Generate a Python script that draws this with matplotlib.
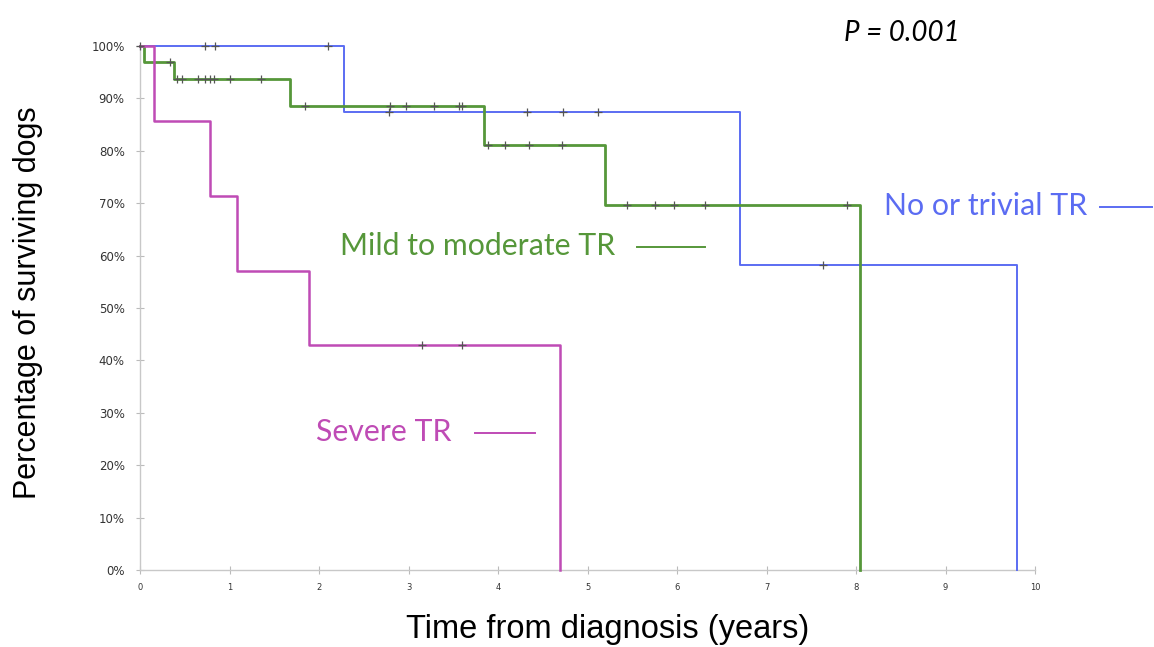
import numpy as np
import matplotlib.pyplot as plt
from matplotlib.lines import Line2D

# Kaplan-Meier curves (years, survival fraction)
none_t = [0, 2.28, 6.7, 9.8]
none_s = [1.0, 0.875, 0.583, 0.0]
none_cens = [0, 0.73, 0.84, 2.1, 2.78, 4.32, 4.73, 5.12, 7.63]

mild_t = [0, 0.04, 0.38, 1.68, 3.84, 5.2, 8.04]
mild_s = [1.0, 0.969, 0.9375, 0.886, 0.812, 0.696, 0.0]
mild_cens = [0.33, 0.41, 0.47, 0.65, 0.73, 0.78, 0.83, 1.0, 1.35,
             1.84, 2.79, 2.97, 3.28, 3.56, 3.60,
             3.89, 4.08, 4.35, 4.71,
             5.44, 5.75, 5.97, 6.31, 7.9]

sev_t = [0, 0.16, 0.78, 1.08, 1.89, 4.69]
sev_s = [1.0, 0.857, 0.714, 0.571, 0.429, 0.0]
sev_cens = [3.15, 3.60]

blue = '#5b6cf2'
green = '#56973a'
magenta = '#bf4bb5'


def surv_at(times, surv, t):
    i = np.searchsorted(times, t, side='right') - 1
    return surv[i]


fig = plt.figure(figsize=(11.54, 6.47), dpi=100)
ax = fig.add_axes([140/1154, 1-570/647, 895/1154, 524/647])

curves = [(none_t, none_s, none_cens, blue, 1.4),
          (mild_t, mild_s, mild_cens, green, 2.0),
          (sev_t, sev_s, sev_cens, magenta, 1.8)]
for t, s, c, col, lw in curves:
    ax.step(t, s, where='post', color=col, lw=lw, clip_on=False, zorder=3)
    cy = [surv_at(t, s, x) for x in c]
    ax.plot(c, cy, ls='none', marker='+', ms=6, mew=0.9, color='#555555',
            clip_on=False, zorder=4)

ax.set_xlim(0, 10)
ax.set_ylim(0, 1)
ax.set_xticks(range(11))
ax.set_yticks(np.arange(0, 1.01, 0.1))
ax.set_yticklabels([f'{int(round(v*100))}%' for v in np.arange(0, 1.01, 0.1)])
ax.tick_params(axis='x', direction='inout', length=6, width=0.8, color='#bbbbbb',
               labelsize=6, labelcolor='#333333', pad=6)
ax.tick_params(axis='y', direction='inout', length=6, width=0.8, color='#bbbbbb',
               labelsize=8.5, labelcolor='#333333', pad=8)
for sp in ['top', 'right']:
    ax.spines[sp].set_visible(False)
for sp in ['left', 'bottom']:
    ax.spines[sp].set_color('#c8c8c8')
    ax.spines[sp].set_linewidth(1.0)

fig.text(28/1154, 1-303/647, 'Percentage of surviving dogs', rotation=90,
         ha='center', va='center', fontsize=22, family='Liberation Sans')
fig.text(608/1154, 1-638/647, 'Time from diagnosis (years)',
         ha='center', va='baseline', fontsize=23.5, family='Liberation Sans')
fig.text(902/1154, 1-33/647, 'P = 0.001', ha='center', va='center',
         fontsize=20, style='italic', family='Lato')

labels = [('No or trivial TR', 884, 1100, 1152, 206, blue),
          ('Mild to moderate TR', 340, 637, 705, 246, green),
          ('Severe TR', 316, 475, 535, 432, magenta)]
for txt, x0, l0, l1, y, col in labels:
    fig.text(x0/1154, 1-y/647, txt, ha='left', va='center', fontsize=21.8,
             color=col, family='Lato')
    fig.add_artist(Line2D([l0/1154, l1/1154], [1-(y+1)/647, 1-(y+1)/647],
                          color=col, lw=1.4))

fig.savefig('out.png', dpi=100, facecolor='white')
